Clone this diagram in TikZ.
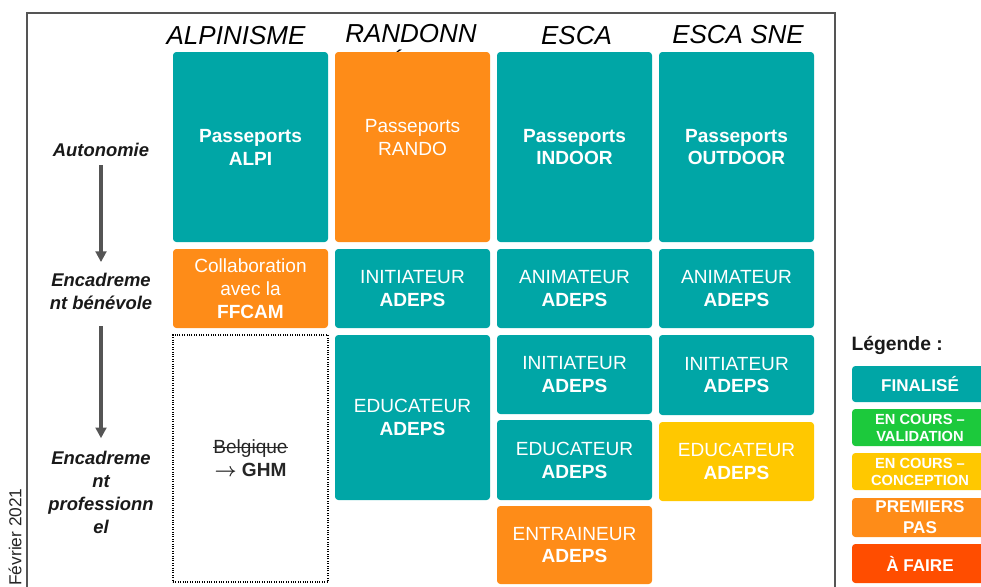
\documentclass[tikz,border=0pt]{standalone}
\usepackage{fontspec}
\setmainfont{Liberation Sans}
\usetikzlibrary{arrows.meta}

\definecolor{finalise}{RGB}{0,166,166}
\definecolor{validation}{RGB}{28,201,60}
\definecolor{conception}{RGB}{255,200,0}
\definecolor{premiers}{RGB}{254,140,24}
\definecolor{afaire}{RGB}{255,77,0}
\definecolor{framegray}{RGB}{85,85,85}

\newcommand\tilefont{\fontsize{14.3}{17.2}\selectfont}
\newcommand\headfont{\fontsize{19.5}{23}\selectfont\itshape}
\newcommand\sidefont{\fontsize{13.8}{17.25}\selectfont\bfseries\itshape}
\newcommand\legfont{\fontsize{12.8}{15.7}\selectfont\bfseries}
\newcommand\legsmall{\fontsize{11}{12.8}\selectfont\bfseries}
\newcommand\strikeword[1]{\setbox0\hbox{#1}\rlap{\raisebox{0.32em}{\rule{\wd0}{0.7pt}}}\box0}

\tikzset{every picture/.style={line width=0.75pt}}
\tikzset{
  tile/.style 2 args={rounded corners=2.5pt, inner sep=0pt, align=center, text=white, font=\tilefont, minimum width=#1*0.75pt, minimum height=#2*0.75pt},
  legbox/.style={tile={136}{#1}},
  head/.style={anchor=base, inner sep=0pt, font=\headfont},
  side/.style={inner sep=0pt, align=center, font=\sidefont, text=black!90},
  levelarrow/.style={draw=framegray, line width=2.5pt, -{Triangle[length=8pt,width=8pt]}},
}

\begin{document}
\begin{tikzpicture}[x=0.75pt,y=0.75pt,yscale=-1,xscale=1]
    \useasboundingbox (0,0) rectangle (981,586);

    %Frame
    \draw [draw=framegray, line width=1.9pt] (27,590) -- (27,13) -- (835,13) -- (835,590) ;

    % Column headers
    \node [head] (hrando2) at (404,72) {ÉE};
    \node [head] (halpi) at (236,44) {ALPINISME};
    \node [head] (hrando) at (411,42) {RANDONN};
    \node [head] (hesca) at (576.5,44) {ESCA};
    \node [head] (hsne) at (738,43) {ESCA SNE};

    % Column ALPINISME
    \node [tile={155}{190}, fill=finalise] (alpi) at (250.5,147) {\textbf{Passeports}\\\textbf{ALPI}};
    \node [tile={155}{79}, fill=premiers] (ffcam) at (250.5,288.5) {Collaboration\\avec la\\\textbf{FFCAM}};
    \node [tile={155}{247}, fill=white, draw=black, densely dotted, line width=0.8pt, rounded corners=0pt, text=black!85] (ghm) at (250.5,458.5) {\strikeword{Belgique}\\{\boldmath$\rightarrow$} \textbf{GHM}};

    % Column RANDONNEE
    \node [tile={155}{190}, fill=premiers] (rando) at (412.5,147) {};
    \node [tile={10}{10}] (randotxt) at (412.5,137.5) {Passeports\\RANDO};
    \node [tile={155}{79}, fill=finalise] (rinit) at (412.5,288.5) {INITIATEUR\\\textbf{ADEPS}};
    \node [tile={155}{165}, fill=finalise] (reduc) at (412.5,417.5) {EDUCATEUR\\\textbf{ADEPS}};

    % Column ESCA
    \node [tile={155}{190}, fill=finalise] (indoor) at (574.5,147) {\textbf{Passeports}\\\textbf{INDOOR}};
    \node [tile={155}{79}, fill=finalise] (eanim) at (574.5,288.5) {ANIMATEUR\\\textbf{ADEPS}};
    \node [tile={155}{79}, fill=finalise] (einit) at (574.5,374.5) {INITIATEUR\\\textbf{ADEPS}};
    \node [tile={155}{80}, fill=finalise] (educ) at (574.5,460) {EDUCATEUR\\\textbf{ADEPS}};
    \node [tile={155}{78}, fill=premiers] (eentr) at (574.5,545) {ENTRAINEUR\\\textbf{ADEPS}};

    % Column ESCA SNE
    \node [tile={155}{190}, fill=finalise] (outdoor) at (736.5,147) {\textbf{Passeports}\\\textbf{OUTDOOR}};
    \node [tile={155}{79}, fill=finalise] (sanim) at (736.5,288.5) {ANIMATEUR\\\textbf{ADEPS}};
    \node [tile={155}{80}, fill=finalise] (sinit) at (736.5,375) {INITIATEUR\\\textbf{ADEPS}};
    \node [tile={155}{79}, fill=conception] (seduc) at (736.5,461.5) {EDUCATEUR\\\textbf{ADEPS}};

    % Levels
    \node [side] (auto) at (101,150) {Autonomie};
    \node [side] (benev) at (101,291.5) {Encadreme\\nt bénévole};
    \node [side] (pro) at (101,492) {Encadreme\\nt\\professionn\\el};
    \draw [levelarrow, shorten <=6pt, shorten >=8pt] (auto) -- (benev);
    \draw [levelarrow, shorten <=12pt, shorten >=9pt] (benev) -- (pro);

    % Date
    \node [rotate=90, inner sep=0pt, font=\fontsize{13}{15}\selectfont, text=black!85] (date) at (15,537) {Février 2021};

    % Legend
    \node [anchor=west, inner sep=0pt, font=\fontsize{14.5}{17}\selectfont\bfseries, text=black!90] (legende) at (851,345) {Légende :};
    \node [legbox={36}, fill=finalise, font=\legfont] (lfin) at (920,384) {FINALISÉ};
    \node [legbox={37}, fill=validation, font=\legsmall] (lval) at (920,427.5) {EN COURS –\\VALIDATION};
    \node [legbox={37}, fill=conception, font=\legsmall] (lcon) at (920,471.5) {EN COURS –\\CONCEPTION};
    \node [legbox={39}, fill=premiers, font=\legfont] (lpre) at (920,517.5) {PREMIERS\\PAS};
    \node [legbox={39}, fill=afaire, font=\legfont] (lfai) at (920,563.5) {À FAIRE};

\end{tikzpicture}
\end{document}
